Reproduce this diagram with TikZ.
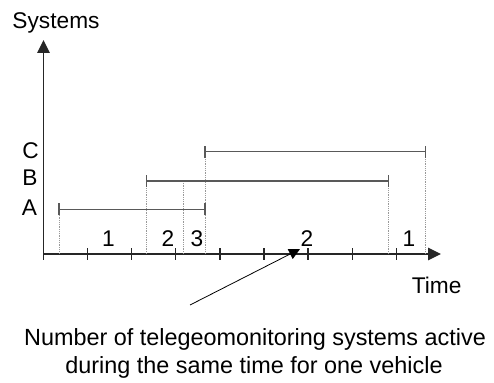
\documentclass[tikz,border=0pt]{standalone}
\usepackage{fontspec}
\setmainfont{Liberation Sans}
\usetikzlibrary{arrows.meta}
\begin{document}
\begin{tikzpicture}[x=1pt,y=-1pt,
  axis/.style={line width=1.3pt,black!85},
  axtip/.style={-{Triangle[length=13pt,width=12.5pt]}},
  interval/.style={line width=1.3pt,black!65},
  guide/.style={line width=0.8pt,black!40,densely dotted},
  lbl/.style={inner sep=0pt,anchor=base,font=\fontsize{22.7}{27.5}\selectfont},
  caplbl/.style={inner sep=0pt,anchor=base,font=\fontsize{23.4}{27.5}\selectfont}]
\useasboundingbox (0,0) rectangle (494,382);
% axes
\coordinate (O) at (43.5,254);
\coordinate (Ytop) at (43.5,40);
\coordinate (Xend) at (441,254);
\draw[axis,axtip] (O) -- (Ytop);
\draw[axis,axtip] (O) -- (Xend);
\foreach \i in {0,...,8}{
  \coordinate (t\i a) at (43.5+44.1*\i,248.3);
  \coordinate (t\i b) at (43.5+44.1*\i,260);
  \draw[axis] (t\i a) -- (t\i b);
}
% intervals
\coordinate (A1) at (59,209.3);
\coordinate (A2) at (205,209.3);
\coordinate (B1) at (146.7,181);
\coordinate (B2) at (388.3,181);
\coordinate (C1) at (205,151.7);
\coordinate (C2) at (425.7,151.7);
\coordinate (Bm) at (183.3,181);
% guides
\foreach \p in {A1,B1,Bm,C1,B2,C2}{
  \coordinate (\p g) at (O -| \p);
  \draw[guide] (\p) -- (\p g);
}
\foreach \s/\e in {A1/A2,B1/B2,C1/C2}{
  \draw[interval] (\s) -- (\e);
  \draw[interval] ([yshift=-6pt]\s) -- ([yshift=6pt]\s);
  \draw[interval] ([yshift=-6pt]\e) -- ([yshift=6pt]\e);
}
% labels
\node[lbl] (sys) at (56,28.3) {Systems};
\node[lbl] (time) at (436.7,293.3) {Time};
\node[lbl] (la) at (29.5,215.5) {A};
\node[lbl] (lb) at (30,185) {B};
\node[lbl] (lc) at (30.5,158.3) {C};
\node[lbl] (n1) at (108.5,246.7) {1};
\node[lbl] (n2) at (168,246.7) {2};
\node[lbl] (n3) at (197,246.7) {3};
\node[lbl] (n4) at (307,246.7) {2};
\node[lbl] (n5) at (409,246.7) {1};
% caption
\node[caplbl] (cap1) at (255,345.5) {Number of telegeomonitoring systems active};
\node[caplbl] (cap2) at (254,373) {during the same time for one vehicle};
\coordinate (ps) at (190,305);
\coordinate (pe) at (300,249);
\draw[line width=0.8pt,-{Triangle[length=11pt,width=11pt]}] (ps) -- (pe);
\end{tikzpicture}
\end{document}
